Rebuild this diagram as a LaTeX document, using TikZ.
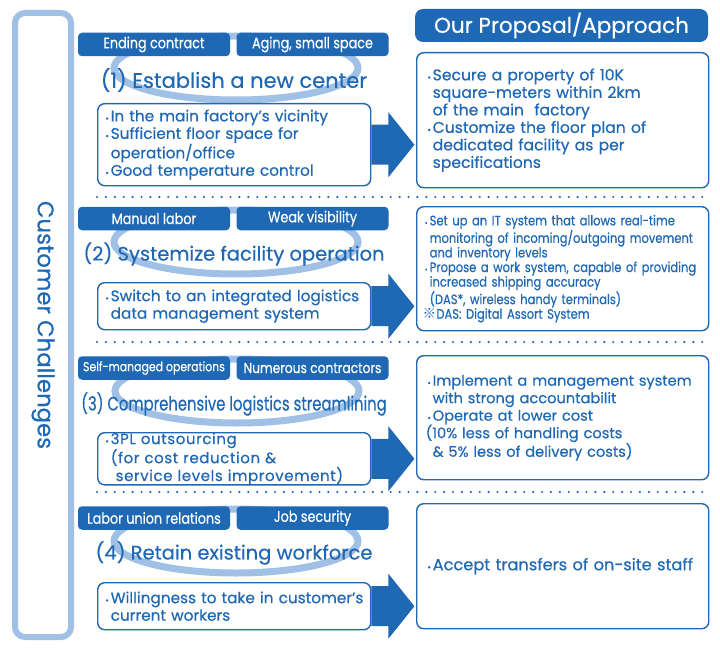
\documentclass[tikz,border=0pt]{standalone}
\usepackage{fontspec}
\setmainfont{Poppins}[FakeBold=0.45]
\newfontfamily\condfont{Poppins}[FakeStretch=0.84, FakeBold=0.45]
\newfontfamily\narrowfont{Poppins}[FakeStretch=0.76, FakeBold=0.45]
\newfontfamily\widefont{Poppins}[LetterSpace=4, FakeBold=0.45]
\newfontfamily\cjkfont{Noto Sans CJK JP}
\definecolor{cblue}{RGB}{31,104,180}
\definecolor{lblue}{RGB}{160,192,230}
\newcommand{\bul}{\makebox[7pt][c]{\scalebox{0.55}{\textbullet}}}
\newcommand{\ind}{\hspace*{7pt}}
\tikzset{
  sidebar/.style={draw=lblue, line width=6pt, rounded corners=10pt, fill=white,
    text=cblue, font=\fontsize{22.8}{26}\selectfont},
  header/.style={fill=cblue, rounded corners=8pt, text=white, minimum width=293pt,
    minimum height=33pt, inner sep=0pt, font=\fontsize{21.5}{26}\selectfont},
  tag/.style={fill=cblue, rounded corners=4pt, text=white, minimum width=152pt,
    minimum height=23.5pt, inner sep=0pt, font=\condfont\fontsize{15.2}{16}\selectfont},
  ring/.style={draw=lblue, line width=7pt},
  title/.style={text=cblue, inner sep=0pt, font=\fontsize{19.5}{22}\selectfont},
  leftbox/.style={draw=cblue, line width=1.4pt, fill=white, rounded corners=7pt,
    anchor=north west, text=cblue, align=left, text width=261pt, inner xsep=6pt,
    inner ysep=0pt, font=\fontsize{15.3}{17.5}\selectfont,
    execute at begin node={\hyphenpenalty=10000\exhyphenpenalty=10000}},
  rightbox/.style={leftbox, text width=274pt, inner xsep=9pt},
  sep/.style={draw=cblue, line width=2.4pt, line cap=round, dash pattern=on 0pt off 8.9pt},
  bigarrow/.style={fill=cblue}
}
\begin{document}
\begin{tikzpicture}[x=1pt,y=-1pt]
  \useasboundingbox (0,0) rectangle (720,650);
  % left column
  \node[sidebar, rotate=-90, minimum width=624pt, minimum height=56pt] (cc) at (43,325)
    {Customer Challenges};
  \node[header] (hd) at (561.5,25.5) {Our Proposal/Approach};
  %
  % (1)
  \draw[ring] (236,68) ellipse [x radius=122, y radius=32];
  \node[tag] (t1a) at (154,44.5) {Ending contract};
  \node[tag] (t1b) at (312.5,44.5) {Aging, small space};
  \node[title, font=\fontsize{21}{22}\selectfont] (h1) at (234,80) {(1) Establish a new center};
  \node[leftbox, minimum height=82pt] (l1) at (97,103)
    {\bul In the main factory's vicinity\\
     \bul Sufficient floor space for\\
     \ind operation/office\\
     \bul Good temperature control};
  \node[rightbox, minimum height=135pt, font=\fontsize{15.6}{17.5}\selectfont] (r1) at (416,52)
    {\bul Secure a property of 10K\\
     \ind square-meters within 2km\\
     \ind of the main\ \ factory\\
     \bul Customize the floor plan of\\
     \ind dedicated facility as per\\
     \ind specifications};
  \fill[bigarrow] (l1.east) ++(0,-20) -- ++(17,0) -- ++(0,-12.5) -- ++(26,32.5)
    -- ++(-26,32.5) -- ++(0,-12.5) -- ++(-17,0) -- cycle;
  \draw[sep] (97,197) -- (r1.east |- 0,197);
  %
  % (2)
  \draw[ring] (236,242) ellipse [x radius=122, y radius=32];
  \node[tag] (t2a) at (154,218.5) {Manual labor};
  \node[tag] (t2b) at (312.5,218.5) {Weak visibility};
  \node[title] (h2) at (234,254) {(2) Systemize facility operation};
  \node[leftbox, minimum height=47pt] (l2) at (97,282)
    {\bul Switch to an integrated logistics\\
     \ind data management system};
  \node[rightbox, minimum height=124pt, font=\condfont\fontsize{13.7}{14.6}\selectfont,
    text width=280pt, inner xsep=6pt] (r2) at (416,206)
    {\bul Set up an IT system that allows real-time\\
     \ind monitoring of incoming/outgoing movement\\
     \ind and inventory levels\\
     \bul Propose a work system, capable of providing\\
     \ind increased shipping accuracy\\
     \ind (DAS*, wireless handy terminals)\\
     {\cjkfont ※}DAS: Digital Assort System};
  \fill[bigarrow] (l2.east) ++(0,-20) -- ++(17,0) -- ++(0,-12.5) -- ++(26,32.5)
    -- ++(-26,32.5) -- ++(0,-12.5) -- ++(-17,0) -- cycle;
  \draw[sep] (97,342) -- (r2.east |- 0,342);
  %
  % (3)
  \draw[ring] (237,391) ellipse [x radius=122, y radius=32];
  \node[tag, font=\condfont\fontsize{13}{16}\selectfont] (t3a) at (154,368) {Self-managed operations};
  \node[tag, font=\condfont\fontsize{14.6}{16}\selectfont] (t3b) at (312.5,368) {Numerous contractors};
  \node[title, font=\narrowfont\fontsize{19.5}{22}\selectfont] (h3) at (234,404) {(3) Comprehensive logistics streamlining};
  \node[leftbox, minimum height=47pt, font=\widefont\fontsize{15}{15}\selectfont] (l3) at (97,432)
    {\bul 3PL outsourcing\\
     \ind (for cost reduction \&\\
     \ind\ service levels improvement)};
  \node[rightbox, minimum height=124pt, font=\fontsize{14.6}{17.5}\selectfont] (r3) at (416,355)
    {\bul Implement a management system\\
     \ind with strong accountabilit\\
     \bul Operate at lower cost\\
     (10\% less of handling costs\\
     \ind\& 5\% less of delivery costs)};
  \fill[bigarrow] (l3.east) ++(0,-20) -- ++(17,0) -- ++(0,-12.5) -- ++(26,32.5)
    -- ++(-26,32.5) -- ++(0,-12.5) -- ++(-17,0) -- cycle;
  \draw[sep] (97,492) -- (r3.east |- 0,492);
  %
  % (4)
  \draw[ring] (236,541) ellipse [x radius=122, y radius=32];
  \node[tag] (t4a) at (154,518) {Labor union relations};
  \node[tag] (t4b) at (312.5,518) {Job security};
  \node[title] (h4) at (234,553) {(4) Retain existing workforce};
  \node[leftbox, minimum height=47pt] (l4) at (97,582)
    {\bul Willingness to take in customer's\\
     \ind current workers};
  \node[rightbox, minimum height=125pt, font=\fontsize{16.2}{17.5}\selectfont] (r4) at (416,503)
    {\bul Accept transfers of on-site staff};
  \fill[bigarrow] (l4.east) ++(0,-20) -- ++(17,0) -- ++(0,-12.5) -- ++(26,32.5)
    -- ++(-26,32.5) -- ++(0,-12.5) -- ++(-17,0) -- cycle;
\end{tikzpicture}
\end{document}
